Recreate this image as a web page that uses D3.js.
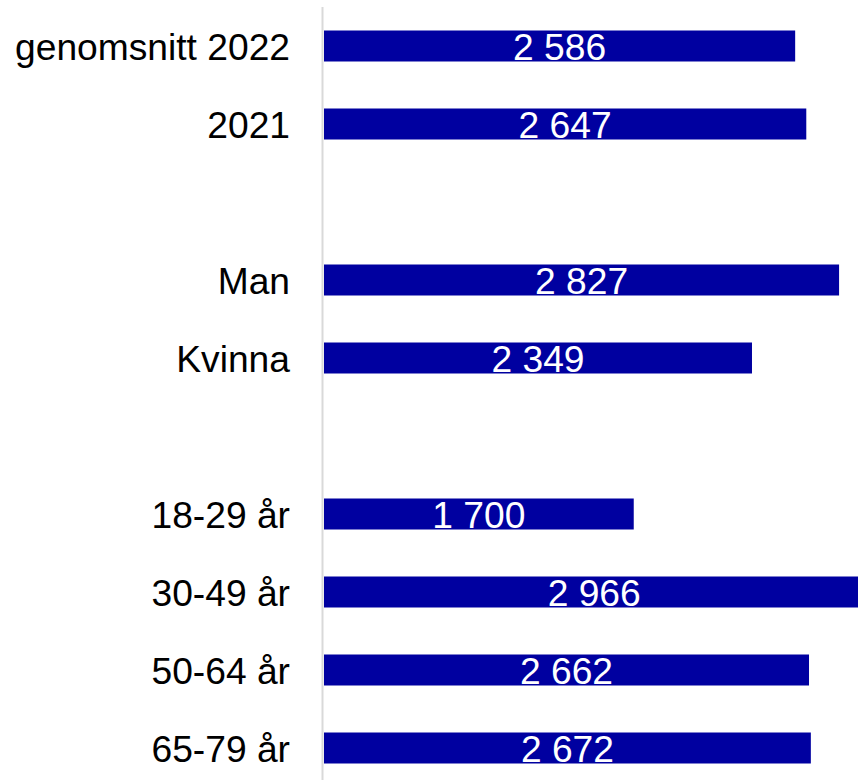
<!DOCTYPE html>
<html>
<head>
<meta charset="utf-8">
<script src="https://cdn.jsdelivr.net/npm/d3@7"></script>
<style>
  body { margin: 0; background: #fff; }
  svg { display: block; }
  text { font-family: "Liberation Sans", Arial, sans-serif; }
</style>
</head>
<body>
<div id="chart"></div>
<script>
// categories (empty strings are spacer rows)
var categories = ["genomsnitt 2022", "2021", "", "Man", "Kvinna", "", "18-29 år", "30-49 år", "50-64 år", "65-79 år"];
var values = [2586, 2647, null, 2827, 2349, null, 1700, 2966, 2662, 2672];
var valueLabels = ["2 586", "2 647", "", "2 827", "2 349", "", "1 700", "2 966", "2 662", "2 672"];

var width = 858, height = 780;

var svg = d3.select("#chart").append("svg")
    .attr("width", width)
    .attr("height", height);

var x = d3.scaleLinear()
    .domain([0, 3000])
    .range([324, 324 + 0.1822 * 3000]);

var y = d3.scaleBand()
    .domain(d3.range(categories.length))
    .range([7, 787])
    .paddingInner(1 - 31 / 78)
    .paddingOuter((1 - 31 / 78) / 2);

var fs = 37.2;

// vertical axis line
svg.append("line")
    .attr("x1", 322.5).attr("x2", 322.5)
    .attr("y1", 7).attr("y2", height)
    .attr("stroke", "#d9d9d9")
    .attr("stroke-width", 2);

var rows = categories.map(function(c, i) {
    return {cat: c, value: values[i], label: valueLabels[i], i: i};
});

// category labels
svg.selectAll(".cat")
    .data(rows.filter(function(d) { return d.cat !== ""; }))
    .enter().append("text")
    .attr("class", "cat")
    .attr("x", 290)
    .attr("y", function(d) { return y(d.i) + y.bandwidth() / 2 + 13.5; })
    .attr("text-anchor", "end")
    .attr("font-size", fs)
    .attr("fill", "#000")
    .text(function(d) { return d.cat; });

var data = rows.filter(function(d) { return d.value !== null; });

svg.selectAll(".bar")
    .data(data)
    .enter().append("rect")
    .attr("class", "bar")
    .attr("x", x(0))
    .attr("y", function(d) { return y(d.i); })
    .attr("width", function(d) { return x(d.value) - x(0); })
    .attr("height", y.bandwidth())
    .attr("fill", "#0000a0");

// value labels, centred in each bar
svg.selectAll(".val")
    .data(data)
    .enter().append("text")
    .attr("class", "val")
    .attr("x", function(d) { return (x(0) + x(d.value)) / 2; })
    .attr("y", function(d) { return y(d.i) + y.bandwidth() / 2 + 13.5; })
    .attr("text-anchor", "middle")
    .attr("font-size", fs)
    .attr("fill", "#fff")
    .text(function(d) { return d.label; });
</script>
</body>
</html>
